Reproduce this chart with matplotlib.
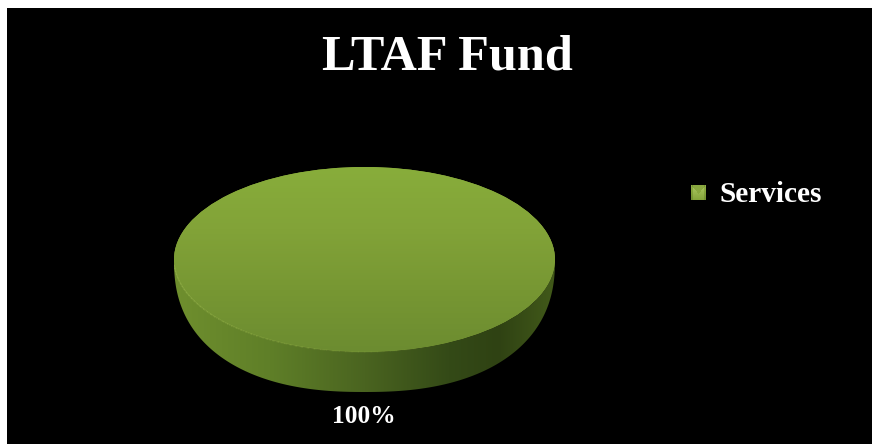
import numpy as np
import matplotlib
matplotlib.use("Agg")
import matplotlib.pyplot as plt
from matplotlib.colors import LinearSegmentedColormap
from matplotlib.patches import Polygon, Rectangle

title = "LTAF Fund"
categories = ["Services"]
values = [100]
pct_labels = ["100%"]

W, H = 872, 444
plt.rcParams["font.family"] = ["Liberation Serif", "DejaVu Serif"]

fig = plt.figure(figsize=(W / 100, H / 100), dpi=100, facecolor="white")

# page axes, in pixels
bg = fig.add_axes([0, 0, 1, 1])
bg.set_xlim(0, W)
bg.set_ylim(H, 0)
bg.axis("off")
bg.add_patch(Rectangle((7, 8), W - 7, H - 8, color="black", lw=0))

bg.text(447, 58, title, color="white", fontsize=36.2, fontweight="bold", ha="center", va="center")
bg.text(719, 194.5, categories[0], color="white", fontsize=21.2, fontweight="bold", va="center")
bg.text(364, 416, pct_labels[0], color="white", fontsize=18.3, fontweight="bold", ha="center", va="center")

# legend key, darker V on top of a lighter square
kx, ky = np.meshgrid(np.linspace(-1, 1, 15), np.linspace(0, 1, 15))
shade = np.where(ky < 0.6 - 0.6 * np.abs(kx), 0.55, 0.95 - 0.45 * ky)
shade = shade * (1 - 0.35 * (np.abs(kx) > 0.85))
key = LinearSegmentedColormap.from_list("key", ["#4f6a1e", "#86a53c", "#b0cc66"])
bg.imshow(shade, cmap=key, vmin=0, vmax=1, extent=(691, 706, 200, 185), aspect="auto", zorder=3, interpolation="bilinear")
bg.set_xlim(0, W)
bg.set_ylim(H, 0)

# pie, top ellipse spans 174-555 by 167-352, rim 40 px deep
x0, x1, y0, y1, depth = 174, 555, 167, 352, 40
rx = (x1 - x0) / 2
ry = (y1 - y0) / 2
ax = fig.add_axes([x0 / W, 1 - (y1 + depth) / H, (x1 - x0) / W, (y1 - y0 + depth) / H])
wedges, _ = ax.pie(values, radius=1, startangle=90, colors=["#8aac3c"], wedgeprops={"lw": 0})
ax.set_aspect("auto")
d = depth / ry
ax.axis("off")

rim_cmap = LinearSegmentedColormap.from_list(
    "rim", [(0, "#6f8f2e"), (0.25, "#5f7f28"), (0.5, "#4a6420"), (0.72, "#344a17"), (0.85, "#2f4213"), (1, "#425a1a")])
th = np.linspace(np.pi, 2 * np.pi, 300)
# bottom edge runs from the widest point of the top down to the lowest point
n = 2.35
low_x = np.sign(np.cos(th)) * np.abs(np.cos(th)) ** (2 / n)
low_y = -(1 + d) * np.abs(np.sin(th)) ** (2 / n)
rim_pts = np.r_[np.c_[np.cos(th), np.sin(th)], np.c_[low_x[::-1], low_y[::-1]]]
rim = Polygon(rim_pts, closed=True, fc="none", ec="none", transform=ax.transData)
ax.add_patch(rim)
rim_im = ax.imshow(np.linspace(0, 1, 256).reshape(1, -1), cmap=rim_cmap, extent=(-1, 1, -1 - d, 0), aspect="auto", zorder=1)
rim_im.set_clip_path(rim)

top_cmap = LinearSegmentedColormap.from_list("top", ["#6c8c30", "#779733", "#82a338", "#88ad3b"])
top_im = ax.imshow(np.linspace(0, 1, 256).reshape(-1, 1), cmap=top_cmap, origin="lower", extent=(-1, 1, -1, 1), aspect="auto", zorder=2)
top_im.set_clip_path(wedges[0])

# thin highlight on the front edge, fades out past the middle
edge = np.linspace(1.02 * np.pi, 1.65 * np.pi, 60)
for i in range(len(edge) - 1):
    a = 0.7 * (1 - i / (len(edge) - 2))
    ax.plot(np.cos(edge[i:i + 2]), np.sin(edge[i:i + 2]), color="#8fae45", lw=0.9, alpha=a, zorder=3)
ax.set_xlim(-1, 1)
ax.set_ylim(-1 - d, 1)

fig.savefig("out.png", dpi=100, facecolor="white")
